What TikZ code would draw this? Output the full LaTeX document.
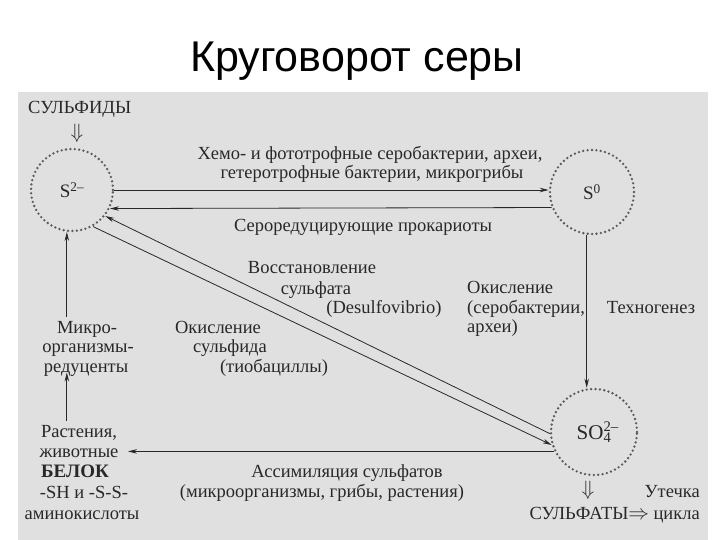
\documentclass[tikz,border=0pt]{standalone}
\usepackage{fontspec}
\setmainfont{Liberation Serif}
\newfontfamily\titlefont{Liberation Sans}
\usetikzlibrary{arrows.meta}
\definecolor{scanbg}{RGB}{224,224,224}
\definecolor{ink}{RGB}{40,40,40}
\definecolor{dotc}{RGB}{90,90,90}
\tikzset{
  circ/.style={circle, minimum size=#1, inner sep=0pt, draw=dotc, line width=2.6pt,
    dash pattern=on 0pt off 4.4pt, line cap=round, text=ink},
  lbl/.style={inner sep=0pt, text=ink, font=\fontsize{18.5}{21}\selectfont, anchor=mid},
  dbl/.style={inner sep=0pt, text=ink, font=\fontsize{20}{22}\selectfont, anchor=mid},
  arr/.style={draw=ink, line width=0.8pt, -{Stealth[length=9pt,width=4.5pt]}},
}
\begin{document}
\begin{tikzpicture}[x=1pt,y=-1pt]
\path[use as bounding box] (0,0) rectangle (720,540);
\fill[scanbg] (18,92) rectangle (708,540);
\node[inner sep=0pt, anchor=mid, font=\titlefont\fontsize{43}{50}\selectfont] (title) at (357,69) {Круговорот серы};

% circles
\node[circ=82pt, font=\fontsize{19}{21}\selectfont] (S2) at (72,190) {S\textsuperscript{2–}};
\node[circ=84pt, font=\fontsize{19}{21}\selectfont] (S0) at (592,192) {S\textsuperscript{0}};
\node[circ=86pt, font=\fontsize{21}{23}\selectfont] (SO4) at (594,432) {SO\rlap{\textsuperscript{2–}}\textsubscript{4}};

% top labels
\node[lbl, anchor=mid west] (sulf) at (28,111) {СУЛЬФИДЫ};
\node[dbl] (dn1) at (77,136) {$\Downarrow$};
\node[lbl] (h1) at (370,157) {Хемо- и фототрофные серобактерии, археи,};
\node[lbl] (h2) at (372,176) {гетеротрофные бактерии, микрогрибы};
\node[lbl] (sr) at (363,229) {Сероредуцирующие прокариоты};

% diagonal labels
\node[lbl] (v1) at (312,271) {Восстановление};
\node[lbl] (v2) at (316,292) {сульфата};
\node[lbl] (v3) at (384,311) {(Desulfovibrio)};
\node[lbl] (o1) at (218,331) {Окисление};
\node[lbl] (o2) at (230,350) {сульфида};
\node[lbl] (o3) at (274,370) {(тиобациллы)};

% right labels
\node[lbl, anchor=mid west] (r1) at (467,291) {Окисление};
\node[lbl, anchor=mid west] (r2) at (467,311) {(серобактерии,};
\node[lbl, anchor=mid west] (r3) at (467,330) {археи)};
\node[lbl] (tech) at (651,311) {Техногенез};

% left labels
\node[lbl] (m1) at (87,331) {Микро-};
\node[lbl] (m2) at (88,350) {организмы-};
\node[lbl] (m3) at (86,370) {редуценты};
\node[lbl] (p1) at (79,435) {Растения,};
\node[lbl] (p2) at (79,455) {животные};
\node[lbl, font=\bfseries\fontsize{19}{21}\selectfont] (p3) at (75,475) {БЕЛОК};
\node[lbl] (p4) at (84,496) {-SH и -S-S-};
\node[lbl] (p5) at (82,517) {аминокислоты};

% bottom labels
\node[lbl] (a1) at (347,475) {Ассимиляция сульфатов};
\node[lbl] (a2) at (322,495) {(микроорганизмы, грибы, растения)};
\node[dbl] (dn2) at (588,493) {$\Downarrow$};
\node[lbl, anchor=mid east] (ut) at (700,495) {Утечка};
\node[lbl, anchor=mid east] (cy) at (700,517) {цикла};
\node[lbl, anchor=mid east] (sf) at ([xshift=-4pt]cy.mid west) {СУЛЬФАТЫ{\fontsize{20}{22}\selectfont$\Rightarrow$}};

% connectors
\coordinate (tipL) at (128,448);
\draw[arr] (S2.east) -- (S2.east -| S0.west);
\draw[arr] (S0.201) -- (S2.334);
\draw[arr] (SO4.182) -- (S2.322);
\draw[arr] (S2.300) -- (SO4.197);
\draw[arr] (S0.263) -- (S0.263 |- SO4.north);
\draw[arr] (SO4.206) -- (SO4.206 -| tipL);
\draw[arr] (m1.north -| S2.263) ++(0,-4) -- (S2.263);
\draw[arr] (p1.north -| S2.263) ++(0,-4) -- ([yshift=4pt]m3.south -| S2.263);
\end{tikzpicture}
\end{document}
